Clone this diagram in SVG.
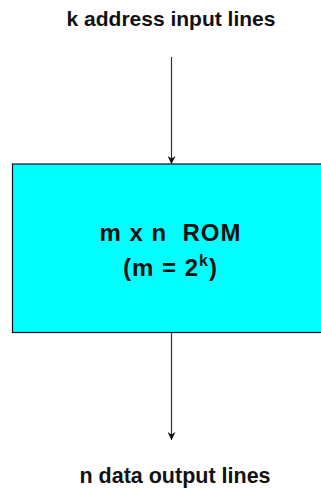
<svg xmlns="http://www.w3.org/2000/svg" width="321" height="488" viewBox="0 0 321 488">
<style>
.lbl{font-family:"Liberation Sans",Arial,sans-serif;font-weight:bold;fill:#111;text-anchor:middle;white-space:pre}
.big{font-size:24px;letter-spacing:1px}
.conn{stroke:#333;stroke-width:1.2;fill:none}
</style>
<defs>
<marker id="ah" viewBox="0 0 10 10" refX="10" refY="5" markerWidth="8" markerHeight="8" markerUnits="userSpaceOnUse" orient="auto">
<path d="M0,0 L10,5 L0,10 L3,5 Z" fill="#111"/>
</marker>
</defs>
<rect width="321" height="488" fill="#fff"/>
<g id="top-label"><text class="lbl" x="171" y="26" font-size="21">k address input lines</text></g>
<g id="rom">
<rect x="12.5" y="164" width="310" height="168.5" fill="#00ffff" stroke="#111" stroke-width="1.2"/>
<text class="lbl big" x="170.5" y="241" xml:space="preserve">m x n  ROM</text>
<text class="lbl big" x="170.5" y="276">(m = 2<tspan dy="-10" font-size="16">k</tspan><tspan dy="10">)</tspan></text>
</g>
<g id="bottom-label"><text class="lbl" x="175" y="483" font-size="21.5">n data output lines</text></g>
<g id="connectors">
<line class="conn" x1="171.5" y1="57" x2="171.5" y2="164" marker-end="url(#ah)"/>
<line class="conn" x1="171.5" y1="333" x2="171.5" y2="440" marker-end="url(#ah)"/>
</g>
</svg>
